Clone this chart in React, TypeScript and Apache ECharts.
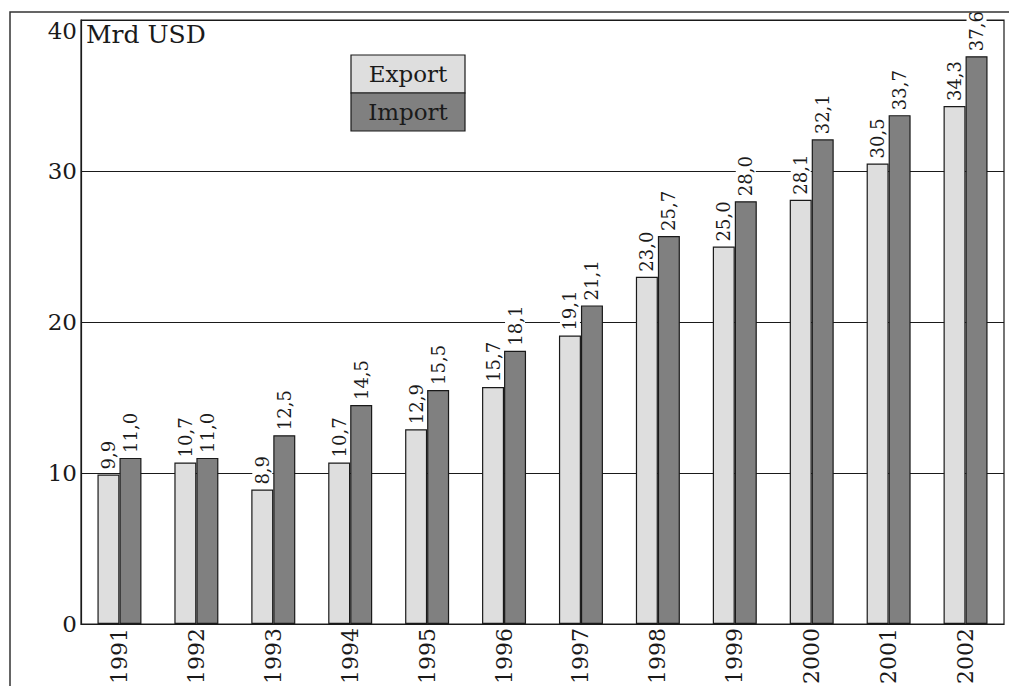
import React, { useEffect, useRef } from "react";
import * as echarts from "echarts";

const years = ["1991", "1992", "1993", "1994", "1995", "1996", "1997", "1998", "1999", "2000", "2001", "2002"];
const exportValues = [9.9, 10.7, 8.9, 10.7, 12.9, 15.7, 19.1, 23.0, 25.0, 28.1, 30.5, 34.3];
const importValues = [11.0, 11.0, 12.5, 14.5, 15.5, 18.1, 21.1, 25.7, 28.0, 32.1, 33.7, 37.6];
const seriesNames = ["Export", "Import"];
const seriesColors = ["#dedede", "#808080"];
const yMin = 0;
const yMax = 40;
const yInterval = 10;
const unitLabel = "Mrd USD";

const FONT = "'DejaVu Serif', serif";
const INK = "#1a1a1a";

export default function App() {
  const ref = useRef<HTMLDivElement>(null);
  useEffect(() => {
    document.body.style.margin = "0";
    const chart = echarts.init(ref.current!, null, { renderer: "svg" });
    const fmt = (p: any) => Number(p.value).toFixed(1).replace(".", ",");
    const mkSeries = (name: string, data: number[], color: string) => ({
      name,
      type: "bar",
      data,
      barWidth: 22,
      barGap: "0%",
      itemStyle: { color, borderColor: INK, borderWidth: 1.2 },
      label: {
        show: true,
        position: "top",
        rotate: 90,
        align: "left",
        verticalAlign: "middle",
        distance: 2,
        formatter: fmt,
        fontFamily: FONT,
        fontSize: 18,
        color: INK,
        backgroundColor: "#fff",
        padding: [1, 3],
      },
    });
    const legendGraphics: any[] = [];
    seriesNames.forEach((n, i) => {
      legendGraphics.push({
        type: "rect",
        shape: { x: 351, y: 55 + i * 38, width: 114, height: 38 },
        style: { fill: seriesColors[i], stroke: INK, lineWidth: 1.2 },
        z: 100,
      });
      legendGraphics.push({
        type: "text",
        x: 408,
        y: 74 + i * 38,
        style: {
          text: n,
          font: `23px ${FONT}`,
          fill: INK,
          align: "center",
          verticalAlign: "middle",
        },
        z: 101,
      });
    });
    chart.setOption({
      animation: false,
      backgroundColor: "#fff",
      grid: {
        left: 81,
        top: 20,
        right: 5,
        bottom: 62,
        outerBoundsMode: "none",
        containLabel: false,
        show: true,
        borderColor: INK,
        borderWidth: 1.2,
        backgroundColor: "transparent",
      },
      xAxis: {
        type: "category",
        data: years,
        axisLine: { show: true, lineStyle: { color: INK, width: 1.2 } },
        axisTick: { show: false },
        axisLabel: {
          rotate: 90,
          margin: 4,
          fontFamily: FONT,
          fontSize: 22,
          color: INK,
        },
      },
      yAxis: {
        type: "value",
        min: yMin,
        max: yMax,
        interval: yInterval,
        axisLine: { show: true, lineStyle: { color: INK, width: 1.2 } },
        axisTick: { show: false },
        splitLine: { show: true, lineStyle: { color: INK, width: 1.2 } },
        axisLabel: {
          margin: 4,
          fontFamily: FONT,
          fontSize: 23,
          color: INK,
          formatter: (v: number) => (v === yMax ? `{t|${v}}` : `${v}`),
          rich: {
            t: { fontFamily: FONT, fontSize: 23, color: INK, padding: [22, 0, 0, 0] },
          },
        },
      },
      series: [
        mkSeries(seriesNames[0], exportValues, seriesColors[0]),
        mkSeries(seriesNames[1], importValues, seriesColors[1]),
      ],
      graphic: [
        {
          type: "rect",
          shape: { x: 10, y: 12, width: 1200, height: 900 },
          style: { fill: "transparent", stroke: "#333", lineWidth: 1.5 },
          silent: true,
          z: 200,
        },
        {
          type: "text",
          x: 86,
          y: 22,
          style: { text: unitLabel, font: `25px ${FONT}`, fill: INK },
          z: 100,
        },
        ...legendGraphics,
      ],
    });
    return () => chart.dispose();
  }, []);
  return (
    <div
      ref={ref}
      style={{ position: "fixed", left: 0, top: 0, width: 1009, height: 686 }}
    />
  );
}
